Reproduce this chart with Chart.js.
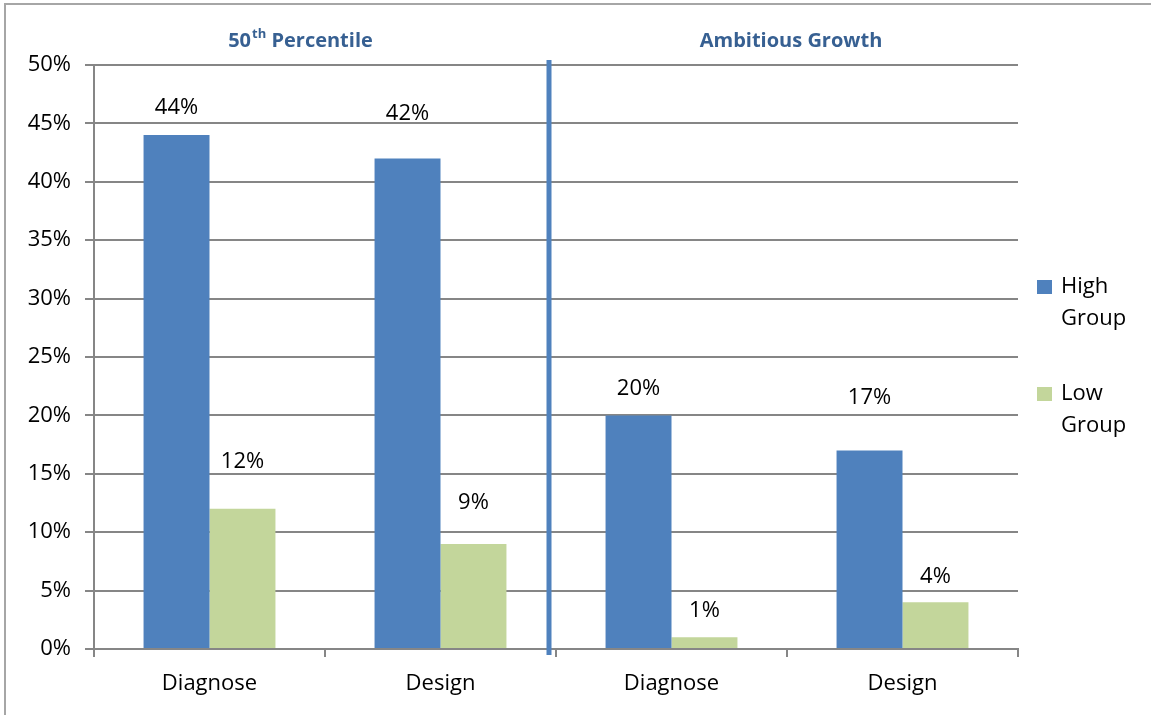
<!DOCTYPE html>
<html>
<head>
<meta charset="utf-8">
<script src="https://cdn.jsdelivr.net/npm/chart.js@4.4.0/dist/chart.umd.min.js"></script>
<style>
  body { margin: 0; background: #fff; }
  #wrap { position: absolute; left: 0; top: 0; width: 1151px; height: 715px; }
  #frame { position: absolute; left: 4px; top: 3px; width: 1147px; height: 712px;
           border-left: 2px solid #a6a6a6; border-top: 2px solid #a6a6a6; box-sizing: border-box; }
</style>
</head>
<body>
<div id="wrap">
  <div id="frame"></div>
  <canvas id="chart" width="1151" height="715"></canvas>
</div>
<script>
const categories = ['Diagnose', 'Design', 'Diagnose', 'Design'];
const highGroup = [44, 42, 20, 17];
const lowGroup = [12, 9, 1, 4];
const seriesNames = [['High', 'Group'], ['Low', 'Group']];
const sectionTitles = ['50th Percentile', 'Ambitious Growth'];
// how far above the bar top each label sits (px), as in the picture
const highLabelGap = [27, 45, 27, 53];
const lowLabelGap = [47, 41, 27, 26];

const FONT = '"Open Sans", Lato, sans-serif';
const SIZE = 22;

const overlay = {
  id: 'overlay',
  afterDatasetsDraw(chart) {
    const c = chart.ctx;
    const x = chart.scales.x;
    const area = chart.chartArea;

    // value labels
    c.save();
    c.fillStyle = '#000';
    c.font = SIZE + 'px ' + FONT;
    c.textAlign = 'center';
    c.textBaseline = 'middle';
    chart.data.datasets.forEach((ds, i) => {
      const gaps = i === 0 ? highLabelGap : lowLabelGap;
      chart.getDatasetMeta(i).data.forEach((bar, j) => {
        c.fillText(ds.data[j] + '%', bar.x, bar.y - gaps[j]);
      });
    });

    // divider between the two sections
    const mid = (x.getPixelForValue(1) + x.getPixelForValue(2)) / 2 - 7;
    c.strokeStyle = '#4F81BD';
    c.lineWidth = 5;
    c.beginPath();
    c.moveTo(mid, area.top - 5);
    c.lineTo(mid, area.bottom + 6);
    c.stroke();

    // section titles
    c.fillStyle = '#376092';
    c.font = 'bold 20px ' + FONT;
    c.textBaseline = 'alphabetic';
    const t1x = (x.getPixelForValue(0) + x.getPixelForValue(1)) / 2 - 25;
    const t2x = (x.getPixelForValue(2) + x.getPixelForValue(3)) / 2 + 4;
    // "50th Percentile" with superscript
    const p1 = sectionTitles[0].match(/^(\d+)(th)(.*)$/);
    const wA = c.measureText(p1[1]).width;
    c.font = 'bold 13px ' + FONT;
    const wB = c.measureText(p1[2]).width;
    c.font = 'bold 20px ' + FONT;
    const wC = c.measureText(p1[3]).width;
    const sx = t1x - (wA + wB + wC) / 2;
    c.textAlign = 'left';
    c.fillText(p1[1], sx, 47);
    c.font = 'bold 13px ' + FONT;
    c.fillText(p1[2], sx + wA + 1, 38);
    c.font = 'bold 20px ' + FONT;
    c.fillText(p1[3], sx + wA + wB + 1, 47);
    c.textAlign = 'center';
    c.fillText(sectionTitles[1], t2x, 47);

    // legend
    c.font = SIZE + 'px ' + FONT;
    c.textAlign = 'left';
    c.textBaseline = 'middle';
    const legTop = [287, 394];
    chart.data.datasets.forEach((ds, i) => {
      c.fillStyle = ds.backgroundColor;
      c.fillRect(1037, legTop[i] - 7, 15, 14);
      c.fillStyle = '#000';
      seriesNames[i].forEach((line, k) => {
        c.fillText(line, 1061, legTop[i] + k * 32);
      });
    });
    c.restore();
  }
};

new Chart(document.getElementById('chart'), {
  type: 'bar',
  data: {
    labels: categories,
    datasets: [
      { label: 'High Group', data: highGroup, backgroundColor: '#4F81BD' },
      { label: 'Low Group', data: lowGroup, backgroundColor: '#C3D69B' }
    ]
  },
  options: {
    responsive: false,
    animation: false,
    layout: { padding: { left: 0, top: 65, right: 133, bottom: 0 } },
    categoryPercentage: 0.571,
    barPercentage: 1,
    plugins: {
      legend: { display: false },
      tooltip: { enabled: false }
    },
    scales: {
      x: {
        grid: { drawOnChartArea: false, drawTicks: true, tickLength: 8, color: '#868686', lineWidth: 2, offset: true },
        border: { color: '#868686', width: 2 },
        ticks: { color: '#000', font: { family: FONT, size: SIZE }, padding: 14 },
        afterFit(s) { s.height = 66; }
      },
      y: {
        min: 0, max: 50,
        ticks: { stepSize: 5, color: '#000', font: { family: FONT, size: SIZE }, padding: 14,
                 callback: v => v + '%' },
        grid: { color: '#868686', lineWidth: 2, tickLength: 9 },
        border: { color: '#868686', width: 2 },
        afterFit(s) { s.width = 94; }
      }
    }
  },
  plugins: [overlay]
});
</script>
</body>
</html>
